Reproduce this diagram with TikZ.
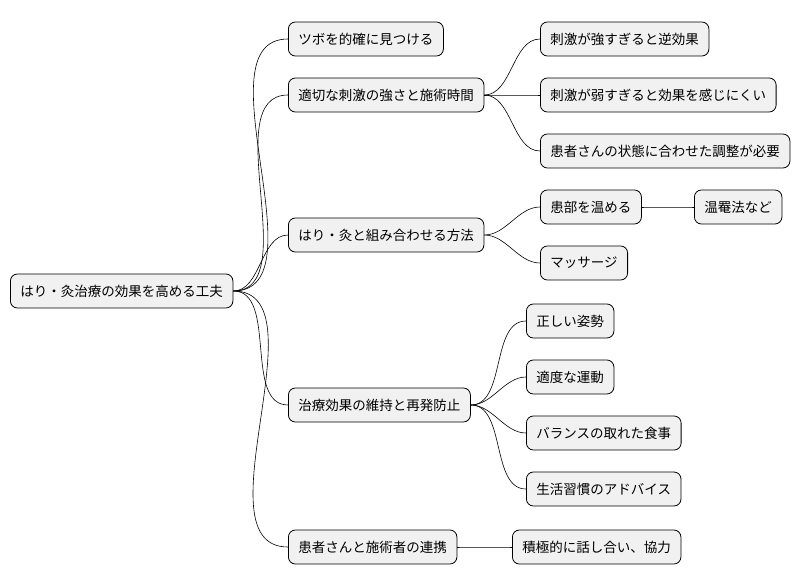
\documentclass[tikz,border=0pt]{standalone}
\usepackage{fontspec}
\setmainfont{Noto Sans CJK JP}
\definecolor{boxfill}{HTML}{F1F1F1}
\tikzset{
  topic/.style={draw=black, fill=boxfill, rounded corners=7pt, anchor=west,
    minimum height=34pt, inner xsep=10pt, font=\fontsize{13.5pt}{16pt}\selectfont, line width=0.8pt},
  link/.style={draw=black, line width=0.6pt, out=0, in=180, looseness=0.9}
}
\begin{document}
\begin{tikzpicture}[x=1pt,y=-1pt]
  \useasboundingbox (0,0) rectangle (810,583);
  % root
  \node[topic] (root) at (10,291) {はり・灸治療の効果を高める工夫};
  % first level
  \node[topic] (spot) at (288,39) {ツボを的確に見つける};
  \node[topic] (dose) at (288,95) {適切な刺激の強さと施術時間};
  \node[topic] (combo) at (288,235) {はり・灸と組み合わせる方法};
  \node[topic] (keep) at (288,405) {治療効果の維持と再発防止};
  \node[topic] (team) at (288,547) {患者さんと施術者の連携};
  % second level
  \node[topic] (strong) at (540,39) {刺激が強すぎると逆効果};
  \node[topic] (weak) at (540,95) {刺激が弱すぎると効果を感じにくい};
  \node[topic] (adjust) at (540,151) {患者さんの状態に合わせた調整が必要};
  \node[topic] (warm) at (540,207) {患部を温める};
  \node[topic] (compress) at (694,207) {温罨法など};
  \node[topic] (massage) at (540,263) {マッサージ};
  \node[topic] (posture) at (526,321) {正しい姿勢};
  \node[topic] (exercise) at (526,377) {適度な運動};
  \node[topic] (diet) at (526,433) {バランスの取れた食事};
  \node[topic] (habit) at (526,489) {生活習慣のアドバイス};
  \node[topic] (talk) at (512,547) {積極的に話し合い、協力};
  % connectors
  \foreach \c in {spot,dose,combo,keep,team}
    \draw[link] (root.east) to (\c.west);
  \foreach \c in {strong,weak,adjust}
    \draw[link] (dose.east) to (\c.west);
  \foreach \c in {warm,massage}
    \draw[link] (combo.east) to (\c.west);
  \foreach \c in {posture,exercise,diet,habit}
    \draw[link] (keep.east) to (\c.west);
  \draw[link] (warm.east) to (compress.west);
  \draw[link] (team.east) to (talk.west);
\end{tikzpicture}
\end{document}
